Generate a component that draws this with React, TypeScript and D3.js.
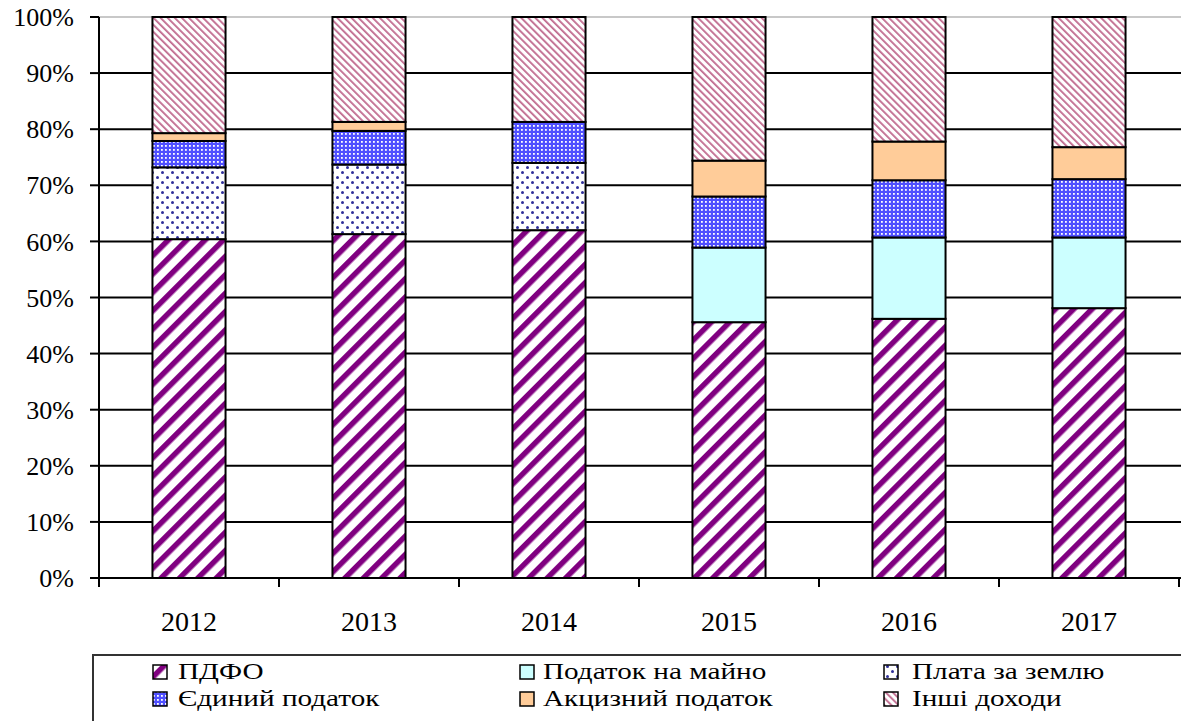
import { useRef, useEffect } from "react";
import * as d3 from "d3";

const years = ["2012", "2013", "2014", "2015", "2016", "2017"];
const seriesNames = [
  "ПДФО",
  "Податок на майно",
  "Плата за землю",
  "Єдиний податок",
  "Акцизний податок",
  "Інші доходи",
];
// shares, % of total, per year
const pdfo = [60.4, 61.3, 62.0, 45.6, 46.2, 48.1];
const propertyTax = [0, 0, 0, 13.3, 14.5, 12.6];
const landFee = [12.8, 12.4, 12.0, 0, 0, 0];
const singleTax = [4.7, 6.0, 7.3, 9.1, 10.2, 10.4];
const exciseTax = [1.4, 1.6, 0, 6.4, 6.9, 5.7];
const otherIncome = [20.7, 18.7, 18.7, 25.6, 22.2, 23.2];
const yTicks = [0, 10, 20, 30, 40, 50, 60, 70, 80, 90, 100];

const seriesValues = [pdfo, propertyTax, landFee, singleTax, exciseTax, otherIncome];
const fills = [
  "url(#pPdfo)",
  "#CCFFFF",
  "url(#pLand)",
  "url(#pSingle)",
  "#FFCC99",
  "url(#pOther)",
];

export default function App() {
  const svgRef = useRef<SVGSVGElement>(null);

  useEffect(() => {
    document.body.style.margin = "0";
    if (!svgRef.current) return;
    const svg = d3.select(svgRef.current);
    svg.selectAll("*").remove();

    const width = 1181;
    const height = 721;
    const left = 99;
    const right = 1179;
    const top = 17;
    const bottom = 578;
    const font = "Liberation Serif";

    svg.attr("width", width).attr("height", height);

    // Patterns
    const defs = svg.append("defs");
    const pp = defs
      .append("pattern")
      .attr("id", "pPdfo")
      .attr("patternUnits", "userSpaceOnUse")
      .attr("width", 13)
      .attr("height", 13)
      .attr("patternTransform", "rotate(45)");
    pp.append("rect").attr("width", 13).attr("height", 13).attr("fill", "#fff");
    pp.append("rect").attr("width", 5.5).attr("height", 13).attr("fill", "#800080");

    const po = defs
      .append("pattern")
      .attr("id", "pOther")
      .attr("patternUnits", "userSpaceOnUse")
      .attr("width", 5)
      .attr("height", 5)
      .attr("patternTransform", "rotate(-45)");
    po.append("rect").attr("width", 5).attr("height", 5).attr("fill", "#fff");
    po.append("rect").attr("width", 1.8).attr("height", 5).attr("fill", "#c06a8e");

    const pl = defs
      .append("pattern")
      .attr("id", "pLand")
      .attr("patternUnits", "userSpaceOnUse")
      .attr("width", 10)
      .attr("height", 10);
    pl.append("rect").attr("width", 10).attr("height", 10).attr("fill", "#fff");
    pl.append("circle").attr("cx", 2.5).attr("cy", 2.5).attr("r", 1.5).attr("fill", "#30309a");
    pl.append("circle").attr("cx", 7.5).attr("cy", 7.5).attr("r", 1.5).attr("fill", "#30309a");

    const ps = defs
      .append("pattern")
      .attr("id", "pSingle")
      .attr("patternUnits", "userSpaceOnUse")
      .attr("width", 4)
      .attr("height", 4);
    ps.append("rect").attr("width", 4).attr("height", 4).attr("fill", "#5050ff");
    ps.append("rect").attr("x", 1).attr("y", 1).attr("width", 1.8).attr("height", 1.8).attr("fill", "#fff");

    const x = d3
      .scaleBand<string>()
      .domain(years)
      .range([left, right])
      .paddingInner(0.594)
      .paddingOuter(0.297);
    const y = d3.scaleLinear().domain([0, 100]).range([bottom, top]);

    // Grid lines
    svg
      .append("g")
      .selectAll("line")
      .data(yTicks.filter((d) => d > 0))
      .join("line")
      .attr("x1", left)
      .attr("x2", width)
      .attr("y1", (d) => y(d))
      .attr("y2", (d) => y(d))
      .attr("stroke", (d) => (d === 100 ? "#c8c8c8" : "#000"))
      .attr("stroke-width", 2);

    // Stacked bars
    const table = years.map((yr, i) => {
      const row: Record<string, number | string> = { year: yr };
      seriesNames.forEach((s, k) => (row[s] = seriesValues[k][i]));
      return row;
    });
    const stacked = d3
      .stack<Record<string, number | string>>()
      .keys(seriesNames)
      .value((d, key) => d[key] as number)(table);

    stacked.forEach((layer, k) => {
      svg
        .append("g")
        .selectAll("rect")
        .data(layer.filter((d) => d[1] - d[0] > 0))
        .join("rect")
        .attr("x", (d) => x(d.data.year as string)!)
        .attr("width", x.bandwidth())
        .attr("y", (d) => y(d[1]))
        .attr("height", (d) => y(d[0]) - y(d[1]))
        .attr("fill", fills[k])
        .attr("stroke", "#000")
        .attr("stroke-width", 2);
    });

    // Axes
    const ax = svg.append("g").attr("stroke", "#000").attr("stroke-width", 2);
    ax.append("line").attr("x1", left).attr("x2", left).attr("y1", top).attr("y2", bottom + 9);
    ax.append("line").attr("x1", left - 9).attr("x2", width).attr("y1", bottom).attr("y2", bottom);
    ax.selectAll(".yt")
      .data(yTicks)
      .join("line")
      .attr("x1", left - 9)
      .attr("x2", left)
      .attr("y1", (d) => y(d))
      .attr("y2", (d) => y(d));
    const gap = (x.step() - x.bandwidth()) / 2;
    const xTickPos = years
      .map((yr) => x(yr)! - gap)
      .concat([x(years[years.length - 1])! + x.bandwidth() + gap]);
    ax.selectAll(".xt")
      .data(xTickPos)
      .join("line")
      .attr("x1", (d) => d)
      .attr("x2", (d) => d)
      .attr("y1", bottom)
      .attr("y2", bottom + 9);

    svg
      .append("g")
      .selectAll("text")
      .data(yTicks)
      .join("text")
      .attr("x", 74)
      .attr("y", (d) => y(d))
      .attr("dy", "0.35em")
      .attr("text-anchor", "end")
      .style("font-family", font)
      .style("font-size", "26px")
      .text((d) => d + "%");

    svg
      .append("g")
      .selectAll("text")
      .data(years)
      .join("text")
      .attr("x", (d) => x(d)! + x.bandwidth() / 2)
      .attr("y", 631)
      .attr("text-anchor", "middle")
      .style("font-family", font)
      .style("font-size", "28px")
      .text((d) => d);

    // Legend
    svg
      .append("rect")
      .attr("x", 93)
      .attr("y", 655)
      .attr("width", 1120)
      .attr("height", 100)
      .attr("fill", "#fff")
      .attr("stroke", "#333")
      .attr("stroke-width", 2);
    const markX = [153, 520, 884];
    const textX = [178, 543, 912];
    const rowY = [679, 706];
    const leg = svg
      .append("g")
      .selectAll("g")
      .data(seriesNames)
      .join("g")
      .attr("transform", (d, i) => `translate(0,${rowY[Math.floor(i / 3)]})`);
    leg
      .append("rect")
      .attr("x", (d, i) => markX[i % 3])
      .attr("y", -14)
      .attr("width", 14)
      .attr("height", 14)
      .attr("fill", (d, i) => fills[i])
      .attr("stroke", "#000")
      .attr("stroke-width", 1.5);
    leg
      .append("text")
      .attr("transform", (d, i) => `translate(${textX[i % 3]},0) scale(1.27,1)`)
      .style("font-family", font)
      .style("font-size", "23px")
      .text((d) => d);

    return () => {
      svg.selectAll("*").remove();
    };
  }, []);

  return <svg ref={svgRef} style={{ display: "block" }} />;
}
